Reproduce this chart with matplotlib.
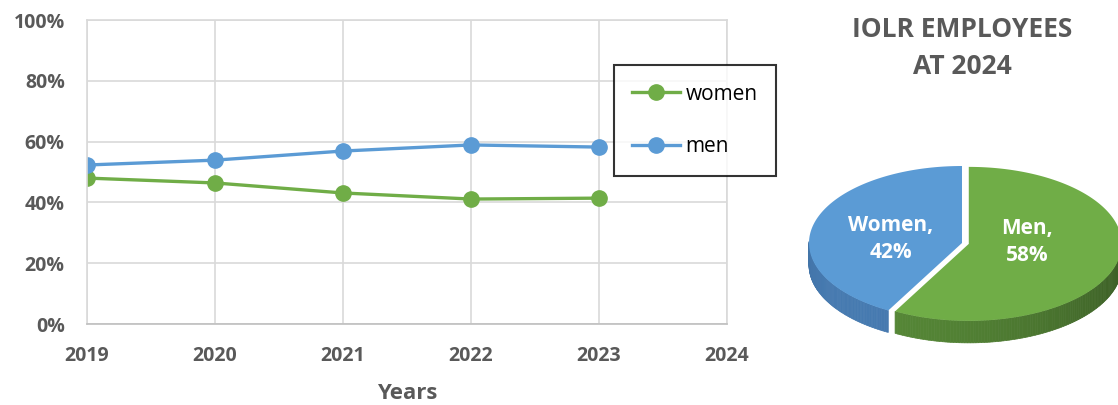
import numpy as np
import matplotlib
matplotlib.use("Agg")
import matplotlib.pyplot as plt
from matplotlib.patches import Polygon

# --- data ---
years = [2019, 2020, 2021, 2022, 2023]
women = [48.0, 46.4, 43.1, 41.1, 41.4]
men = [52.3, 53.9, 56.9, 58.9, 58.2]
pie_labels = ["Men", "Women"]
pie_values = [58, 42]

GREEN = "#70AD47"
BLUE = "#5B9BD5"
GREY = "#595959"
GRID = "#D9D9D9"

plt.rcParams["font.family"] = ["Open Sans", "DejaVu Sans"]

fig = plt.figure(figsize=(11.18, 4.05), dpi=100)

# --- line chart ---
ax = fig.add_axes([87 / 1118, 81 / 405, 640 / 1118, 304 / 405])
ax.plot(years, women, color=GREEN, lw=2.4, marker="o", ms=11, label="women")
ax.plot(years, men, color=BLUE, lw=2.4, marker="o", ms=11, label="men")
ax.set_xlim(2019, 2024)
ax.set_ylim(0, 100)
ax.set_xticks(range(2019, 2025))
ax.set_yticks(range(0, 101, 20))
ax.set_yticklabels([f"{v}%" for v in range(0, 101, 20)])
ax.grid(True, color=GRID, lw=1.2)
ax.set_axisbelow(True)
for s in ax.spines.values():
    s.set_color(GRID)
    s.set_linewidth(1.2)
ax.spines["bottom"].set_color("#BFBFBF")
ax.tick_params(length=0, labelsize=14, labelcolor=GREY, pad=16)
for lab in ax.get_xticklabels() + ax.get_yticklabels():
    lab.set_fontweight("bold")
ax.set_xlabel("Years", fontsize=16, fontweight="bold", color=GREY, labelpad=12)

leg = ax.legend(loc="upper left", bbox_to_anchor=(0.823, 0.852), borderaxespad=0,
                fontsize=15, frameon=True, fancybox=False, labelspacing=1.5,
                borderpad=0.9, handlelength=2.3, handletextpad=0.25)
leg.get_frame().set_edgecolor("black")
leg.get_frame().set_linewidth(1.5)
leg.set_zorder(5)

# --- 3D-like pie ---
pax = fig.add_axes([790 / 1118, 0, 328 / 1118, 1])
pax.set_xlim(790, 1118)
pax.set_ylim(0, 405)
pax.axis("off")

cx, cy, rx, ry, depth = 962, 162, 153, 77, 22
fracs = np.array(pie_values) / sum(pie_values)
top_cols = [GREEN, BLUE]
side_cols = [np.array([0.33, 0.52, 0.21]), np.array([0.27, 0.47, 0.68])]
explode = [7, 0]

start = 90.0
wedges = []
for f in fracs:
    end = start - f * 360
    wedges.append((end, start))
    start = end


def ell(t, ox, oy):
    return ox + rx * np.cos(t), oy + ry * np.sin(t)


def draw_wedge(i):
    a0, a1 = np.radians(wedges[i][0]), np.radians(wedges[i][1])
    mid = (a0 + a1) / 2
    ox = cx + explode[i] * np.cos(mid)
    oy = cy + explode[i] * np.sin(mid) * ry / rx
    base = side_cols[i]
    # cut face on the lower-left boundary (Women slice)
    if i == 1:
        bx, by = ell(a0, ox, oy)
        pax.add_patch(Polygon([(ox, oy), (bx, by), (bx, by - depth), (ox, oy - depth)],
                              closed=True, fc=base * 0.85, ec="none", zorder=2))
    # side wall
    ts = np.linspace(a0, a1, 200)
    for k in range(len(ts) - 1):
        t0, t1 = ts[k], ts[k + 1]
        if np.sin((t0 + t1) / 2) > 0.02:
            continue
        x0, y0 = ell(t0, ox, oy)
        x1, y1 = ell(t1, ox, oy)
        shade = 0.75 + 0.35 * np.cos((t0 + t1) / 2 + np.pi * 0.75) * 0.5
        c = np.clip(base * shade * 1.1, 0, 1)
        pax.add_patch(Polygon([(x0, y0), (x1, y1), (x1, y1 - depth), (x0, y0 - depth)],
                              closed=True, fc=c, ec=c, lw=0.5, zorder=3))
    # top surface
    xs, ys = ell(ts, ox, oy)
    pax.add_patch(Polygon(np.column_stack([np.r_[ox, xs], np.r_[oy, ys]]),
                          closed=True, fc=top_cols[i], ec="none", zorder=4))
    return ox, oy, mid


draw_wedge(1)
draw_wedge(0)

pax.text(891, 166, f"{pie_labels[1]},\n{pie_values[1]}%", ha="center", va="center",
         color="white", fontsize=15, fontweight="bold", linespacing=1.4, zorder=6)
pax.text(1027, 163, f"{pie_labels[0]},\n{pie_values[0]}%", ha="center", va="center",
         color="white", fontsize=15, fontweight="bold", linespacing=1.4, zorder=6)

fig.text(962 / 1118, 1 - 48 / 405, "IOLR EMPLOYEES\nAT 2024", ha="center", va="center",
         fontsize=19, fontweight="bold", color=GREY, linespacing=1.45)

fig.savefig("out.png", dpi=100)
